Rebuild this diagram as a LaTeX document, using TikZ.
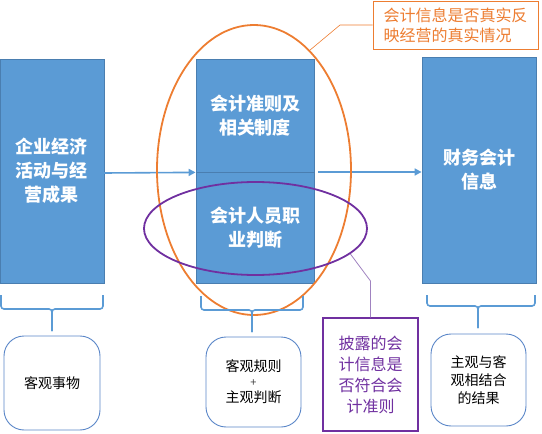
\documentclass[tikz,border=0pt]{standalone}
\usepackage{fontspec}
\setmainfont{Noto Sans CJK SC}
\usetikzlibrary{shapes.geometric,arrows.meta}
\definecolor{boxblue}{HTML}{5B9BD5}
\definecolor{boxedge}{HTML}{4A7EB0}
\definecolor{roundedge}{HTML}{5A86C8}
\definecolor{myorange}{HTML}{ED7D31}
\definecolor{mypurple}{HTML}{7030A0}
\definecolor{purpleline}{HTML}{A083C0}
\tikzset{
  bluebox/.style={draw=boxedge, line width=0.8pt, fill=boxblue, text=white, font=\fontsize{18}{24}\selectfont\bfseries, align=center, inner sep=0pt},
  roundbox/.style={draw=roundedge, line width=0.9pt, fill=white, rounded corners=20pt, font=\fontsize{14}{18}\selectfont, align=center, inner sep=0pt},
  bracestyle/.style={draw=boxblue, line width=1.6pt, rounded corners=3pt},
  flow/.style={draw=boxblue, line width=1.6pt, -{Triangle[length=7pt,width=7pt]}},
}
\begin{document}
\begin{tikzpicture}[x=1pt,y=-1pt]
\useasboundingbox (0,0) rectangle (542,434);
% blue boxes
\node[bluebox, minimum width=104, minimum height=224] (L) at (52,171) {企业经济\\活动与经\\营成果};
\node[bluebox, minimum width=118, minimum height=113] (MT) at (255,115.5) {会计准则及\\相关制度};
\node[bluebox, minimum width=118, minimum height=111] (MB) at (255,227.5) {会计人员职\\业判断};
\node[bluebox, minimum width=114, minimum height=226] (R) at (479,170) {财务会计\\信息};
% arrows
\draw[flow] (104,173) -- (MT.south west);
\coordinate (A2) at (318,172);
\draw[flow] (A2) -- (R.west |- A2);
% ellipses
\node[draw=myorange, line width=1.8pt, ellipse, minimum width=194, minimum height=290, inner sep=0pt] (OE) at (254,170) {};
\node[draw=mypurple, line width=1.8pt, ellipse, minimum width=223, minimum height=93, inner sep=0pt] (PE) at (255.5,228.5) {};
% braces
\draw[bracestyle] (1,295) -- (1,309) -- (52,309) -- (52,331);
\draw[bracestyle] (103,295) -- (103,309) -- (52,309) -- (52,331);
\draw[bracestyle] (201,296) -- (201,310) -- (252,310) -- (252,332);
\draw[bracestyle] (303,296) -- (303,310) -- (252,310) -- (252,332);
\draw[bracestyle] (427,295) -- (427,306) -- (478,306) -- (478,328);
\draw[bracestyle] (535,295) -- (535,306) -- (478,306) -- (478,328);
% bottom boxes
\node[roundbox, minimum width=96, minimum height=94] (B1) at (52,383) {客观事物};
\node[roundbox, minimum width=95, minimum height=90] (B2) at (253.5,382) {客观规则\\[-3pt]{\fontsize{11}{12}\selectfont\color{darkgray}+}\\[-2pt]主观判断};
\node[roundbox, minimum width=95, minimum height=92] (B3) at (478.5,380) {主观与客\\观相结合\\的结果};
% orange callout
\node[draw=myorange, line width=0.9pt, fill=white, text=myorange, minimum width=165, minimum height=48, inner sep=0pt, align=left, font=\fontsize{16}{20}\selectfont] (OC) at (455.5,25) {会计信息是否真实反\\映经营的真实情况};
\coordinate (OK) at (340,25);
\draw[myorange, line width=0.6pt] (OC.west) -- (OK) -- (OE.65.9);
% purple callout
\node[draw=mypurple, line width=1.1pt, fill=white, text=mypurple, minimum width=95, minimum height=113, inner sep=0pt, align=center, font=\fontsize{16}{21}\selectfont] (PB) at (370.5,374.5) {披露的会\\计信息是\\否符合会\\计准则};
\coordinate (PK) at (370.5,281);
\draw[purpleline, line width=0.8pt] (PE.-15) -- (PK) -- (PB.north);
\end{tikzpicture}
\end{document}
